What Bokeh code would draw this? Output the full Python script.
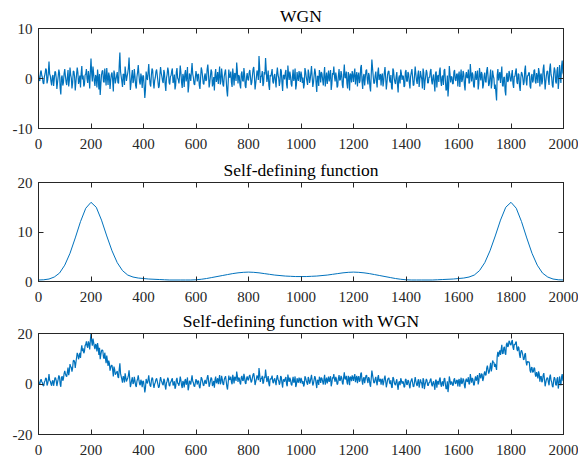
from bokeh.plotting import figure
from bokeh.layouts import column
from bokeh.models import Range1d, LinearAxis, FixedTicker
from bokeh.embed import file_html
from bokeh.resources import INLINE

# sample positions: noisy series are read at x = 0, 2.5, 5, ... (two interleaved lists)
x_even = list(range(0, 2001, 5))
x_odd = [2.5 + 5 * i for i in range(400)]
x_func = list(range(0, 2001, 20))

# WGN, x = 0..2000 step 5
wgn_even = [
    0.8, -0.5, 1.6, 0.2, -1.1, 0.9, 1.7, -0.3, 3.4, 0.5, -1.4, 0.7, -0.2, 1.3, -2.1, 0.4, 1.1, -3.2, 0.6, -0.8,
    1.9, -0.7, 0.3, -1.6, 2.2, 0.1, -0.9, 1.4, -2.4, 0.8, 1.2, -0.4, -1.8, 2.5, 0.6, -1.2, 0.9, -0.1, 1.5, -2.0,
    4.0, -0.6, 1.0, -1.5, 0.3, 1.8, -2.2, -3.3, 0.7, 1.6, -0.8, 0.2, 2.1, -1.3, 0.5, -0.4, 1.2, -2.6, 0.9, -0.2,
    1.3, -1.0, 5.2, 0.4, -1.7, 0.8, 2.4, -0.5, 1.1, 4.2, -2.3, 0.6, -0.9, 1.9, -1.4, 0.3, 2.7, -0.7, 1.0, -1.9,
    0.5, -3.9, 1.4, -0.3, 2.9, -1.1, 0.7, 1.6, -2.0, 0.2, 1.8, -0.6, -1.5, 2.3, 0.4, -0.9, 1.1, -2.5, 0.8, 1.5,
    -1.2, 0.6, 2.0, -0.4, -2.2, 1.3, 0.1, -1.0, 2.6, -0.8, 0.9, -1.7, 1.7, 0.3, -2.8, 1.0, -0.5, 3.1, 0.2, -1.3,
    1.5, -0.6, 0.8, -2.1, 2.2, 0.4, -1.2, 1.0, -0.3, 2.8, -1.8, 0.5, 1.3, -0.9, -2.4, 1.9, 0.0, -1.1, 2.4, -0.5,
    0.7, -1.6, 1.2, -0.2, -3.6, 1.8, 0.3, -0.8, 2.0, -1.4, 0.9, 3.2, -1.0, 0.4, -2.0, 1.4, -0.6, 0.8, -1.9, 1.1,
    -0.4, 1.7, -1.3, 0.6, 2.3, -2.2, 0.2, 1.0, 4.5, -0.9, 0.5, -1.5, 1.3, 4.1, -0.7, 1.6, -2.3, 0.4, 1.9, -1.0,
    0.9, -1.8, 2.2, 0.1, -0.6, 1.5, -2.5, 0.7, 1.1, -1.2, 2.6, -0.3, 0.5, -1.6, 1.8, 0.2, -2.2, 1.3, -0.5, 0.8,
    1.4, -0.9, -2.0, 2.1, 0.3, -1.3, 1.0, -0.2, 2.5, -1.7, 0.6, 1.2, -2.7, 0.4, 1.7, -0.8, 0.9, -1.4, 2.3, 0.0,
    -1.1, 1.6, 0.5, -2.3, 1.1, 2.4, -0.6, 0.3, -1.5, 1.9, -0.2, 0.8, -1.9, 2.8, 0.1, -1.0, 1.3, -2.4, 0.7, 1.5,
    -0.7, 2.0, 0.4, -1.6, 1.2, -0.4, 2.7, -2.1, 0.9, 0.2, 1.8, -1.2, 0.6, -2.6, 3.8, 0.5, -0.9, 1.4, -1.8, 2.2,
    0.3, -1.4, 1.0, -0.5, 2.3, -2.2, 0.8, 1.5, -0.8, -1.9, 2.0, 0.1, -1.1, 1.3, -2.8, 0.6, 1.8, -0.3, 0.4, -1.5,
    1.7, -0.6, 0.9, -2.0, 1.2, 0.3, -1.3, 2.4, -0.4, 0.7, -1.7, 1.5, -0.1, 2.0, -2.3, 0.5, 1.1, -0.9, 0.2, 1.9,
    -1.2, 0.8, -2.6, 1.4, 0.4, -0.7, 2.2, -1.5, 0.6, 1.6, -0.3, -2.1, -3.6, 2.5, -0.8, 0.3, -1.0, 1.7, -0.5, 1.0,
    0.6, -1.7, 1.8, -0.2, 0.9, -2.4, 1.3, 0.2, -1.0, 2.9, -0.6, 0.7, -1.8, 1.5, 0.4, -2.2, 2.1, -0.4, 0.8, -1.3,
    1.2, -0.8, 2.3, -1.5, 0.5, -2.0, 1.6, 0.0, -1.2, -4.4, 1.9, 0.6, -0.9, 2.4, -1.6, 0.3, -3.4, 1.1, -0.4, 0.9,
    -0.6, 1.7, -1.9, 0.4, 2.0, -1.1, 0.8, -2.5, 1.3, 0.1, -0.7, 2.6, -1.4, 0.5, 1.1, -2.0, 0.9, -0.3, 1.8, -1.0,
    0.4, 2.1, -1.6, 1.0, -0.5, 2.8, -2.2, 0.7, 1.4, -1.3, 3.0, 0.2, -1.8, 2.2, -0.6, 1.5, -2.1, 2.7, -0.9, 3.6,
    0.8,
]

# WGN read at x = 2.5..1997.5 step 5
wgn_odd = [
    -0.3, 1.2, 0.6, -0.9, 0.4, 2.0, -1.0, 1.1, 0.9, -0.6, 0.3, -1.5, 1.4, 0.1, -0.8, 1.8, -1.9, 0.2, -1.4, 1.0,
    0.5, -1.3, 1.7, -0.4, 0.8, -2.0, 1.5, 0.3, -0.7, 2.2, -1.1, 0.6, 1.0, -0.2, -1.6, 0.7, 1.9, -0.9, 0.4, 1.3,
    1.1, 2.4, -0.5, 0.7, -1.8, 0.2, 0.9, -1.2, 1.5, -0.6, 2.0, -1.4, 0.3, 1.2, -2.1, 0.8, -0.3, 1.6, -1.0, 0.5,
    -0.8, 2.6, 1.4, -0.6, 0.9, -1.3, 1.0, 0.4, 2.1, 0.9, -1.0, 1.7, -0.4, 0.5, -2.0, 1.3, 0.8, -1.2, 0.2, 0.6,
    -1.5, -2.2, 0.3, 1.2, 0.5, -1.6, 2.0, -0.7, -0.4, 1.4, 0.6, -1.9, 0.8, 1.1, -0.5, 1.7, -1.2, 0.1, 2.2, -0.8,
    0.4, 1.5, -0.9, 0.8, -1.4, 2.1, -0.2, 0.6, 1.2, -1.9, 0.3, 1.0, -0.6, 2.3, -1.5, 0.5, 1.4, 0.9, -1.1, 0.2,
    0.6, 0.9, -1.4, 0.1, 1.6, -1.0, 0.4, -0.5, 1.9, 1.0, -0.8, 1.8, -1.6, 0.3, 0.8, -0.7, 1.3, 0.6, -1.2, 2.0,
    -1.2, 0.4, 1.8, -2.4, -0.9, 0.2, 1.4, -1.7, 0.6, 1.1, -0.5, 1.5, 0.7, -1.3, 0.9, -0.4, 2.1, -1.5, 0.3, -0.2,
    1.2, 0.3, -0.8, 1.9, 0.5, -1.0, 1.6, -0.3, 2.2, 0.4, 1.5, -0.9, 0.8, 1.8, 0.2, -1.4, 0.7, 1.1, -0.6, 0.5,
    -0.4, 1.0, 0.7, -1.5, 1.9, -0.9, 0.6, -0.2, 1.7, -2.0, 0.9, 1.4, -1.1, 0.4, -0.5, 2.0, -1.3, 0.2, 1.5, -0.7,
    0.6, 0.2, -1.2, 1.4, -0.5, 1.8, -0.9, 1.1, 0.3, -0.8, 2.0, -1.0, 0.5, -1.5, 0.9, 1.3, -0.3, 0.8, -1.6, 1.2,
    0.3, -0.6, 1.7, -1.1, 0.8, 0.4, 1.2, -1.8, 0.6, -0.4, 1.5, -1.3, 0.9, 0.2, 1.4, -2.0, 0.5, 1.0, -0.8, 0.7,
    1.0, -1.2, 1.3, 0.5, -0.9, 2.2, -0.6, 0.4, -1.4, 1.6, -0.2, 1.1, -1.7, 0.7, 2.1, -1.0, 0.6, -0.5, 1.2, -0.3,
    0.9, 0.5, -1.6, 1.2, 0.2, -0.8, 1.4, -0.4, 0.7, -2.2, 1.6, -0.7, 0.4, -1.2, 0.1, -1.0, 1.0, 0.6, -1.7, 1.3,
    -0.5, 1.3, -0.8, 0.4, 1.9, -1.4, 0.6, 0.9, -1.1, 1.6, -0.3, 0.5, -2.0, 1.2, -0.6, 1.7, -0.9, 0.3, 1.4, -0.4,
    0.2, -0.9, 1.1, -1.8, 0.7, 1.5, -0.5, 0.3, -1.3, 1.9, -2.4, 0.6, -1.5, 1.0, 0.4, -1.1, 1.3, -0.2, 0.8, -1.6,
    1.4, 0.3, -0.7, 1.5, -1.3, 0.6, 0.1, 1.8, -0.8, 0.9, 1.2, -1.5, 0.4, -0.3, 1.6, -1.0, 0.7, 1.3, -2.0, 0.5,
    -0.6, 1.6, 0.4, -1.0, 1.8, -0.9, 0.5, -2.1, -2.8, 0.7, -0.4, 1.3, 0.8, -1.4, 0.2, -2.5, 0.6, -0.7, 1.5, -0.3,
    0.8, -1.1, 0.5, 1.4, -0.7, 1.0, -1.6, 0.2, 0.9, -1.3, 1.7, -0.4, 0.6, 1.2, -1.5, 0.4, -0.8, 1.6, -0.6, 1.1,
    -0.9, 1.3, 0.6, -1.2, 1.9, 0.4, -0.7, 1.5, -0.3, 2.0, 0.8, -1.4, 0.9, 1.6, -1.0, 2.3, -0.5, 0.7, 2.4, 1.2,
]

# Self-defining function (x = 0..2000 step 20)
func = [
    0.3, 0.35, 0.5, 0.9, 1.7, 3.3, 5.7, 8.8, 12.1, 14.8, 16.0, 15.0, 12.4, 9.2, 6.2, 3.8, 2.2, 1.3, 0.9, 0.7,
    0.6, 0.5, 0.45, 0.4, 0.35, 0.3, 0.3, 0.3, 0.3, 0.3, 0.35, 0.45, 0.6, 0.8, 1.0, 1.2, 1.4, 1.6, 1.75, 1.85,
    1.9, 1.85, 1.75, 1.6, 1.45, 1.3, 1.2, 1.1, 1.05, 1.0, 1.0, 1.0, 1.05, 1.1, 1.2, 1.3, 1.45, 1.6, 1.75, 1.85,
    1.9, 1.85, 1.75, 1.6, 1.4, 1.2, 1.0, 0.8, 0.6, 0.45, 0.35, 0.3, 0.3, 0.3, 0.3, 0.3, 0.35, 0.4, 0.45, 0.5,
    0.6, 0.7, 0.9, 1.3, 2.2, 3.8, 6.2, 9.2, 12.4, 15.0, 16.0, 14.8, 12.1, 8.8, 5.7, 3.3, 1.7, 0.9, 0.5, 0.35,
    0.3,
]

# Self-defining function with WGN, x = 0..2000 step 5
fwgn_even = [
    1.1, -0.2, 1.9, 0.5, -0.8, 1.3, 2.1, 0.2, 3.9, 1.1, -0.7, 1.5, 0.7, 2.4, -0.8, 1.9, 2.8, -1.1, 3.1, 2.1,
    5.2, 3.2, 4.8, 3.5, 7.9, 6.6, 6.4, 9.4, 6.4, 10.4, 11.7, 10.9, 10.3, 15.3, 14.1, 12.9, 15.7, 15.0, 16.9, 13.7,
    20.0, 15.2, 16.5, 13.8, 15.3, 16.2, 11.5, 9.8, 13.1, 13.2, 10.0, 10.2, 11.3, 7.2, 8.2, 6.6, 7.4, 3.0, 5.9, 4.2,
    5.1, 2.4, 8.2, 3.0, 0.5, 2.8, 4.2, 1.0, 2.4, 5.4, -1.2, 1.6, 0.0, 2.8, -0.6, 1.1, 3.4, 0.0, 1.7, -1.3,
    1.1, -3.3, 2.0, 0.2, 3.4, -0.6, 1.2, 2.1, -1.5, 0.6, 2.2, -0.2, -1.1, 2.7, 0.8, -0.5, 1.5, -2.2, 1.1, 1.8,
    -0.9, 0.9, 2.3, -0.1, -1.9, 1.6, 0.4, -0.7, 2.9, -0.5, 1.2, -1.4, 2.0, 0.6, -2.5, 1.3, -0.2, 3.4, 0.5, -1.0,
    1.9, -0.2, 1.2, -1.7, 2.7, 0.9, -0.7, 1.6, 0.3, 3.5, -1.1, 1.3, 2.1, -0.1, -1.5, 2.9, 1.0, -0.1, 3.5, 0.7,
    1.9, -0.4, 2.5, 1.2, -2.2, 3.3, 1.8, 0.8, 3.6, 0.2, 2.6, 4.9, 0.8, 2.2, -0.2, 3.2, 1.3, 2.7, 0.0, 3.0,
    1.5, 3.6, 0.6, 2.5, 4.2, -0.4, 2.0, 2.8, 6.3, 0.8, 2.2, 0.1, 2.9, 5.7, 0.8, 3.1, -0.9, 1.8, 3.3, 0.3,
    2.2, -0.5, 3.5, 1.3, 0.6, 2.7, -1.4, 1.8, 2.2, -0.1, 3.7, 0.8, 1.6, -0.6, 2.8, 1.2, -1.2, 2.3, 0.5, 1.8,
    2.4, 0.1, -1.0, 3.1, 1.3, -0.3, 2.0, 0.8, 3.6, -0.6, 1.7, 2.3, -1.6, 1.5, 2.9, 0.4, 2.1, -0.2, 3.6, 1.3,
    0.2, 2.9, 1.9, -0.9, 2.6, 3.9, 0.9, 1.9, 0.1, 3.5, 1.5, 2.5, -0.2, 4.6, 1.9, 0.8, 3.2, -0.5, 2.6, 3.4,
    1.2, 3.9, 2.3, 0.3, 3.1, 1.4, 4.5, -0.3, 2.7, 1.9, 3.5, 0.4, 2.2, -1.1, 5.3, 2.0, 0.5, 2.8, -0.5, 3.5,
    1.5, -0.3, 2.1, 0.6, 3.3, -1.3, 1.7, 2.4, 0.0, -1.2, 2.7, 0.8, -0.5, 1.9, -2.3, 1.1, 2.3, 0.1, 0.8, -1.1,
    2.0, -0.3, 1.2, -1.7, 1.5, 0.6, -1.0, 2.7, -0.1, 1.0, -1.4, 1.8, 0.2, 2.3, -2.0, 0.8, 1.4, -0.6, 0.5, 2.2,
    -0.9, 1.1, -2.3, 1.7, 0.8, -0.3, 2.6, -1.1, 1.0, 2.0, 0.1, -1.7, -3.2, 3.0, -0.3, 0.8, -0.5, 2.2, 0.1, 1.6,
    1.2, -1.1, 2.5, 0.5, 1.6, -1.7, 2.1, 1.1, -0.1, 3.9, 0.5, 1.9, -0.5, 3.0, 2.2, -0.2, 4.3, 2.2, 3.8, 2.1,
    5.0, 3.6, 7.3, 4.1, 6.7, 5.0, 9.3, 8.5, 8.0, 5.6, 12.7, 12.2, 11.5, 15.5, 12.1, 14.7, 11.6, 16.4, 15.1, 16.7,
    15.4, 17.4, 13.5, 15.5, 16.8, 13.0, 14.3, 10.3, 13.4, 11.4, 9.8, 12.2, 7.4, 8.5, 8.4, 4.5, 6.6, 4.8, 6.3, 2.9,
    3.7, 5.0, 0.9, 3.1, 1.2, 4.3, -0.9, 1.8, 2.3, -0.5, 3.7, 0.8, -1.3, 2.7, -0.2, 1.9, -1.8, 3.0, -0.6, 3.9,
    1.1,
]

# Self-defining function with WGN, x = 2.5..1997.5 step 5
fwgn_odd = [
    0.0, 1.5, 0.9, -0.6, 0.8, 2.4, -0.6, 1.6, 1.5, 0.0, 1.1, -0.7, 2.4, 1.3, 0.6, 3.4, 0.0, 2.5, 1.3, 4.1,
    4.1, 2.9, 6.5, 5.0, 6.9, 4.9, 9.2, 8.7, 8.5, 12.3, 9.8, 12.3, 13.5, 13.0, 12.2, 15.2, 16.9, 14.4, 16.0, 17.2,
    17.0, 18.0, 14.9, 15.8, 12.9, 14.3, 14.3, 11.6, 13.5, 10.6, 12.4, 8.2, 9.2, 9.3, 5.3, 7.4, 5.6, 6.9, 3.7, 4.6,
    2.8, 5.8, 4.2, 1.8, 3.0, 0.6, 2.6, 1.8, 3.4, 2.1, 0.0, 2.7, 0.5, 1.3, -1.2, 2.0, 1.5, -0.5, 0.8, 1.2,
    -0.9, -1.6, 0.8, 1.7, 1.0, -1.1, 2.5, -0.2, 0.0, 1.8, 1.0, -1.5, 1.2, 1.5, -0.1, 2.1, -0.9, 0.4, 2.5, -0.5,
    0.7, 1.8, -0.6, 1.1, -1.1, 2.4, 0.1, 0.9, 1.5, -1.6, 0.6, 1.3, -0.3, 2.6, -1.2, 0.8, 1.7, 1.2, -0.8, 0.5,
    1.0, 1.3, -1.0, 0.5, 2.1, -0.5, 1.0, 0.1, 2.5, 1.7, -0.1, 2.6, -0.8, 1.2, 1.7, 0.3, 2.3, 1.7, -0.1, 3.2,
    0.0, 1.7, 3.1, -1.0, 0.5, 1.7, 2.9, -0.1, 2.2, 2.8, 1.2, 3.2, 2.5, 0.5, 2.7, 1.4, 4.0, 0.4, 2.2, 1.7,
    3.1, 2.2, 1.1, 3.8, 2.3, 0.8, 3.4, 1.5, 3.9, 2.1, 3.2, 0.7, 2.4, 3.4, 1.7, 0.1, 2.1, 2.5, 0.8, 1.8,
    0.9, 2.3, 1.9, -0.3, 3.1, 0.3, 1.7, 0.9, 2.8, -0.9, 2.0, 2.5, -0.1, 1.4, 0.5, 3.0, -0.3, 1.2, 2.5, 0.3,
    1.6, 1.2, -0.2, 2.4, 0.5, 2.8, 0.1, 2.2, 1.4, 0.3, 3.1, 0.1, 1.6, -0.4, 2.1, 2.5, 0.9, 2.0, -0.3, 2.5,
    1.6, 0.8, 3.1, 0.3, 2.3, 1.9, 2.8, -0.2, 2.2, 1.3, 3.2, 0.4, 2.7, 2.0, 3.2, -0.2, 2.4, 2.9, 1.1, 2.6,
    2.9, 0.7, 3.2, 2.4, 0.9, 4.0, 1.2, 2.2, 0.3, 3.3, 1.5, 2.7, -0.1, 2.2, 3.6, 0.4, 2.0, 0.8, 2.5, 0.9,
    2.1, 1.6, -0.5, 2.2, 1.2, 0.1, 2.3, 0.4, 1.5, -1.5, 2.3, -0.1, 1.0, -0.7, 0.6, -0.5, 1.4, 1.0, -1.3, 1.7,
    -0.2, 1.6, -0.5, 0.7, 2.2, -1.1, 0.9, 1.2, -0.8, 1.9, 0.0, 0.8, -1.7, 1.5, -0.3, 2.0, -0.6, 0.6, 1.7, -0.1,
    0.5, -0.6, 1.4, -1.5, 1.1, 1.9, -0.1, 0.7, -0.9, 2.3, -2.0, 1.1, -1.0, 1.5, 0.9, -0.6, 1.8, 0.3, 1.4, -1.0,
    2.0, 0.9, 0.0, 2.2, -0.6, 1.4, 0.9, 2.7, 0.2, 2.0, 2.4, -0.3, 1.8, 1.3, 3.5, 1.1, 3.1, 4.1, 1.2, 4.1,
    3.5, 6.3, 5.7, 4.9, 8.4, 6.5, 8.6, 6.8, 6.8, 11.1, 10.8, 13.3, 13.6, 12.0, 14.3, 12.2, 15.7, 14.7, 17.1, 15.6,
    16.7, 14.5, 15.8, 16.4, 13.8, 14.8, 11.6, 12.7, 12.6, 9.6, 11.8, 8.8, 9.0, 8.9, 5.4, 6.5, 4.6, 6.4, 3.6, 4.7,
    2.2, 4.0, 2.9, 0.7, 3.5, 1.8, 0.5, 2.5, 0.6, 2.8, 1.5, -0.9, 1.4, 2.1, -0.6, 2.7, -0.2, 1.0, 2.7, 1.5,
]

x_ticks = [0, 200, 400, 600, 800, 1000, 1200, 1400, 1600, 1800, 2000]
titles = ["WGN", "Self-defining function", "Self-defining function with WGN"]
y_limits = [(-10, 10), (0, 20), (-20, 20)]
y_ticks = [[-10, 0, 10], [0, 10, 20], [-20, 0, 20]]

AX = "#262626"
LINE = "#0072BD"
FONT = "Liberation Serif"


def interleave(a, b):
    out = []
    for i in range(len(b)):
        out.append(a[i])
        out.append(b[i])
    out.append(a[-1])
    return out


x_noise = interleave(x_even, x_odd)
wgn = interleave(wgn_even, wgn_odd)
func_wgn = interleave(fwgn_even, fwgn_odd)


def style_axis(ax, ticks, labels=True, standoff=6):
    ax.ticker = FixedTicker(ticks=ticks)
    ax.axis_line_color = AX
    ax.axis_line_width = 1
    ax.major_tick_line_color = AX
    ax.major_tick_in = 5
    ax.major_tick_out = 0
    ax.minor_tick_line_color = None
    ax.major_label_text_font = FONT
    if labels:
        ax.major_label_text_color = AX
        ax.major_label_text_font_size = "15px"
        ax.major_label_standoff = standoff
        ax.major_label_overrides = {t: str(t) for t in ticks if t < 0}
    else:
        ax.major_label_text_color = None
        ax.major_label_text_font_size = "1px"
        ax.major_label_standoff = 0


def make(title, xs, ys, ylim, yt, height, top, bottom, lw):
    p = figure(width=578, height=height, output_backend="svg", toolbar_location=None,
               x_range=Range1d(0, 2000), y_range=Range1d(*ylim),
               min_border_left=38, min_border_right=15,
               min_border_top=top, min_border_bottom=bottom)
    p.title.text = title
    p.title.text_font = FONT
    p.title.text_font_size = "17.5px"
    p.title.text_font_style = "normal"
    p.title.text_color = "#000000"
    p.title.align = "center"
    p.title.standoff = 5
    p.xgrid.visible = False
    p.ygrid.visible = False
    p.outline_line_color = AX
    p.background_fill_color = "white"
    p.border_fill_color = "white"
    style_axis(p.xaxis[0], x_ticks, True, 10)
    style_axis(p.yaxis[0], yt, True, 6)
    top_ax = LinearAxis()
    style_axis(top_ax, x_ticks, False)
    p.add_layout(top_ax, "above")
    right_ax = LinearAxis()
    style_axis(right_ax, yt, False)
    p.add_layout(right_ax, "right")
    p.line(xs, ys, line_color=LINE, line_width=lw)
    return p


p1 = make(titles[0], x_noise, wgn, y_limits[0], y_ticks[0], 153, 28, 25, 1.2)
p2 = make(titles[1], x_func, func, y_limits[1], y_ticks[1], 152, 29, 24, 1.0)
p3 = make(titles[2], x_noise, func_wgn, y_limits[2], y_ticks[2], 152, 28, 23, 1.2)

layout = column(p1, p2, p3, spacing=0)
open("out.html", "w").write(file_html(layout, INLINE))
